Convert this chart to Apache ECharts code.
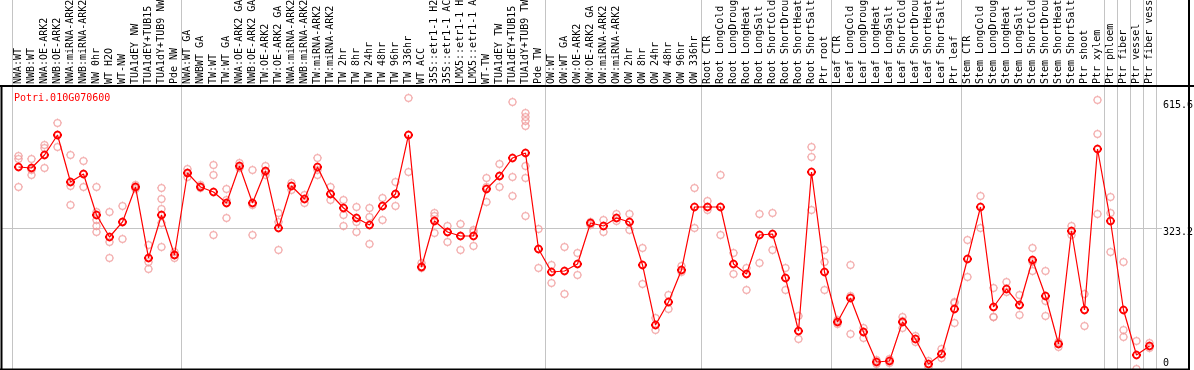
<!DOCTYPE html>
<html><head><meta charset="utf-8">
<script src="https://cdn.jsdelivr.net/npm/echarts@6/dist/echarts.min.js"></script>
<style>html,body{margin:0;padding:0;background:#fff}#c{width:1194px;height:370px}</style>
</head><body><div id="c"></div>
<script>
const geneId = 'Potri.010G070600';
const categories = [
 'NWA:WT','NWB:WT','NWA:OE-ARK2','NWB:OE-ARK2','NWA:miRNA-ARK2','NWB:miRNA-ARK2','NW 0hr','WT H2O','WT-NW','TUA1dEY NW','TUA1dEY+TUB15 NW','TUA1dY+TUB9 NW','Pde NW',
 'NWA:WT GA','NWBWT GA','TW:WT','TW:WT GA','NWA:OE-ARK2 GA','NWB:OE-ARK2 GA','TW:OE-ARK2','TW:OE-ARK2 GA','NWA:miRNA-ARK2','NWB:miRNA-ARK2','TW:miRNA-ARK2','TW:miRNA-ARK2',
 'TW 2hr','TW 8hr','TW 24hr','TW 48hr','TW 96hr','TW 336hr','WT ACC','35S::etr1-1 H2O','35S::etr1-1 ACC','LMX5::etr1-1 H2O','LMX5::etr1-1 ACC','WT-TW','TUA1dEY TW','TUA1dEY+TUB15 TW','TUA1dY+TUB9 TW','Pde TW',
 'OW:WT','OW:WT GA','OW:OE-ARK2','OW:OE-ARK2 GA','OW:miRNA-ARK2','OW:miRNA-ARK2','OW 2hr','OW 8hr','OW 24hr','OW 48hr','OW 96hr','OW 336hr',
 'Root CTR','Root LongCold','Root LongDrought','Root LongHeat','Root LongSalt','Root ShortCold','Root ShortDrought','Root ShortHeat','Root ShortSalt','Ptr root',
 'Leaf CTR','Leaf LongCold','Leaf LongDrought','Leaf LongHeat','Leaf LongSalt','Leaf ShortCold','Leaf ShortDrought','Leaf ShortHeat','Leaf ShortSalt','Ptr leaf',
 'Stem CTR','Stem LongCold','Stem LongDrought','Stem LongHeat','Stem LongSalt','Stem ShortCold','Stem ShortDrought','Stem ShortHeat','Stem ShortSalt','Ptr shoot',
 'Ptr xylem','Ptr phloem','Ptr fiber','Ptr vessel','Ptr fiber vessel'
];
const means = [
 464.0,461.7,491.6,537.5,429.5,447.9,353.7,303.2,337.7,418.1,255.0,353.7,261.9,
 450.2,418.1,406.6,381.3,466.3,381.3,454.8,323.9,420.4,390.5,464.0,402.0,
 369.8,346.8,330.8,374.4,402.0,537.5,234.3,340.0,314.7,305.5,305.5,413.5,443.3,484.7,496.2,275.6,
 222.8,225.1,241.2,335.4,328.5,346.8,337.7,238.9,101.1,153.9,227.4,372.1,
 372.1,372.1,241.2,218.2,307.8,310.1,209.0,87.3,452.5,222.8,
 108.0,163.1,85.0,16.1,18.4,108.0,68.9,11.5,34.5,137.8,
 252.7,372.1,142.4,183.8,147.0,250.4,167.7,57.4,317.0,135.5,
 505.3,340.0,135.5,32.2,52.8
];
const replicates = [
 [489.3,482.4,418.1],[482.4,457.1,445.6],[514.5,507.6,461.7],[565.1,537.5,509.9],[491.6,420.4,376.7],[477.8,447.9,418.1],
 [418.1,360.6,342.3,328.5,314.7],[360.6,291.7,255.0],[374.4,337.7,298.6],[422.6,418.1,413.5],[284.8,245.8,229.7],
 [415.8,390.5,367.5,335.4,280.2],[268.7,261.9,255.0],
 [459.4,450.2,441.0],[422.6,415.8],[468.6,445.6,307.8],[413.5,388.2,346.8],[473.2,461.7],[457.1,376.7,307.8],
 [466.3,452.5,445.6],[358.3,337.7,273.3],[427.2,411.2],[399.7,381.3],[484.7,457.1,445.6],[418.1,402.0,388.2],
 [388.2,353.7,328.5],[372.1,337.7,314.7],[369.8,349.1,287.1],[392.8,374.4,342.3],[429.5,402.0,374.4],[622.5,537.5,452.5],
 [243.5,234.3,232.0],[358.3,351.4,312.4],[328.5,314.7,291.7],[333.1,305.5,273.3],[319.3,314.7,282.5],[438.7,418.1,383.6],
 [470.9,443.3,418.1],[613.3,441.0,397.4],[588.0,578.8,569.7,558.2,466.3,438.7,351.4],[321.6,275.6,232.0],
 [238.9,197.5],[280.2,172.3],[266.5,215.9],[337.7,330.8],[342.3,314.7],[356.0,340.0],[356.0,319.3],[277.9,195.2],
 [117.1,89.6],[170.0,137.8],[236.6,222.8],[415.8,323.9],
 [385.9,365.2],[445.6,307.8],[266.5,218.2],[232.0,181.5],[356.0,243.5],[358.3,273.3],[232.0,181.5],[121.7,68.9],
 [509.9,487.0,365.2],[273.3,245.8,181.5],
 [112.6,103.4],[238.9,167.7,80.4],[94.2,85.0,71.2],[20.7,11.5],[23.0,13.8],[119.4,110.3,94.2],[75.8,62.0],[18.4,4.6],
 [45.9,25.3],[153.9,151.6,105.7],
 [296.3,211.3],[397.4,323.9],[186.1,119.4,119.4],[199.8,176.9],[170.0,124.0],[277.9,245.8,225.1],[225.1,156.2,121.7],
 [62.0,50.5],[328.5,307.8],[172.3,98.8],
 [617.9,539.8,356.0],[395.1,358.3,268.7],[245.8,89.6,73.5],[64.3,0.0],[59.7,48.2]
];
const yTickValues = [0, 323.2, 615.6];
const gridValue = 323.2;
const groupBreaks = [0, 13, 41, 53, 63, 73, 84, 85, 86, 87, 88];

const mono = 'DejaVu Sans Mono';
const sym = 'path://M2.5,10A7.5,7.5,0,1,1,17.5,10A7.5,7.5,0,1,1,2.5,10Z M10,0L10,2.5 M10,17.5L10,20 M0,10L2.5,10 M17.5,10L20,10';

const repPoints = [];
replicates.forEach((arr, i) => arr.forEach(v => repPoints.push([i, v])));

const chart = echarts.init(document.getElementById('c'), null, {renderer: 'canvas'});
chart.setOption({
  animation: false,
  backgroundColor: '#ffffff',
  title: {text: geneId, left: 9, top: 88, textStyle: {color: '#ff0000', fontSize: 10, fontFamily: mono, fontWeight: 'normal'}},
  grid: {left: 12, top: 86, width: 1144, bottom: 1, containLabel: false, outerBoundsMode: 'none'},
  xAxis: {
    type: 'category', data: categories, position: 'top', boundaryGap: true,
    axisLine: {show: false}, axisTick: {show: false}, splitLine: {show: false},
    axisLabel: {interval: 0, rotate: 90, margin: 2, color: '#000', fontSize: 10, fontFamily: mono}
  },
  yAxis: {
    type: 'value', position: 'right', min: 0, max: 650,
    axisLine: {show: false}, axisTick: {show: false}, splitLine: {show: false},
    axisLabel: {
      customValues: yTickValues, margin: 7, color: '#000', fontSize: 10, fontFamily: mono, align: 'left',
      formatter: v => v === 0 ? '{b|0}' : '{t|' + v + '}',
      rich: {
        t: {fontSize: 10, fontFamily: mono, color: '#000', padding: [9, 0, 0, 0]},
        b: {fontSize: 10, fontFamily: mono, color: '#000', padding: [0, 0, 12, 0]}
      }
    }
  },
  series: [
    {type: 'scatter', data: repPoints, symbol: sym, symbolSize: 9, z: 2, silent: true,
     itemStyle: {color: 'rgba(0,0,0,0)', borderColor: '#f09a9a', borderWidth: 1.2}},
    {type: 'line', data: means, symbol: sym, symbolSize: 9, showSymbol: true, z: 3, silent: true,
     lineStyle: {color: '#ff0000', width: 1.2},
     itemStyle: {color: 'rgba(0,0,0,0)', borderColor: '#ff0000', borderWidth: 1.8}}
  ]
});

// frame & separators positioned through the axes
const c0 = chart.convertToPixel({xAxisIndex: 0}, 0);
const c1 = chart.convertToPixel({xAxisIndex: 0}, 1);
const step = c1 - c0;
const yBase = chart.convertToPixel({yAxisIndex: 0}, 0);
const yGrid = chart.convertToPixel({yAxisIndex: 0}, gridValue);
const els = [];
groupBreaks.forEach(b => {
  const x = Math.round(c0 - step / 2 + b * step) + 0.5;
  els.push({type: 'line', z: -1, shape: {x1: x, y1: 0, x2: x, y2: yBase}, style: {stroke: '#c4c4c4', lineWidth: 1}});
});
const yg = Math.round(yGrid) + 0.5;
els.push({type: 'line', z: -1, shape: {x1: 2, y1: yg, x2: 1162, y2: yg}, style: {stroke: '#c4c4c4', lineWidth: 1}});
els.push({type: 'line', z: 10, shape: {x1: 0, y1: 86, x2: 1194, y2: 86}, style: {stroke: '#000', lineWidth: 2}});
els.push({type: 'line', z: 10, shape: {x1: 0, y1: yBase + 0.5, x2: 1190, y2: yBase + 0.5}, style: {stroke: '#000', lineWidth: 2}});
els.push({type: 'line', z: 10, shape: {x1: 1.5, y1: 86, x2: 1.5, y2: 370}, style: {stroke: '#000', lineWidth: 2}});
els.push({type: 'line', z: 10, shape: {x1: 1189, y1: 0, x2: 1189, y2: 370}, style: {stroke: '#000', lineWidth: 2}});
chart.setOption({graphic: {elements: els}});
</script></body></html>
